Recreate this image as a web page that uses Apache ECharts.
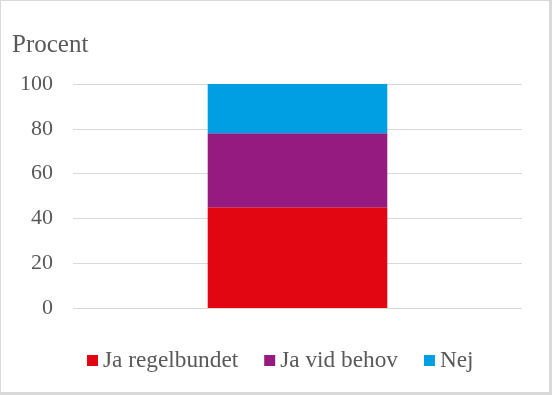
<!DOCTYPE html>
<html><head><meta charset="utf-8">
<script src="https://cdn.jsdelivr.net/npm/echarts@6/dist/echarts.min.js"></script>
<style>html,body{margin:0;padding:0;background:#fff}
#wrap{position:relative;width:552px;height:395px}
#c{width:552px;height:395px}
#frame{position:absolute;left:0;top:0;width:552px;height:395px;box-sizing:border-box;border-style:solid;border-color:#d9d9d9;border-width:1px 3px 3px 1px;pointer-events:none}</style>
</head><body><div id="wrap"><div id="c"></div><div id="frame"></div></div>
<script>
const categories = [''];
const seriesNames = ['Ja regelbundet', 'Ja vid behov', 'Nej'];
const regelbundet = [45];
const vidBehov = [33];
const nej = [22];
const yTitle = 'Procent';
const colors = ['#e20613', '#951b81', '#009fe3'];
const font = 'Liberation Serif';
const chart = echarts.init(document.getElementById('c'));
const data = [regelbundet, vidBehov, nej];
chart.setOption({
  animation: false,
  textStyle: {fontFamily: font},
  title: {text: yTitle, left: 7, top: 28,
    textStyle: {fontFamily: font, fontSize: 25, fontWeight: 'normal', color: '#595959'}},
  grid: {left: 73, right: 30, top: 84, bottom: 87},
  legend: {
    top: 344, left: 82, itemWidth: 11, itemHeight: 11, itemGap: 26,
    icon: 'rect',
    textStyle: {fontFamily: font, fontSize: 23.3, color: '#595959'},
    data: seriesNames
  },
  xAxis: {type: 'category', data: categories, axisLine: {show: false}, axisTick: {show: false}, axisLabel: {show: false}},
  yAxis: {type: 'value', min: 0, max: 100, interval: 20,
    axisLabel: {fontFamily: font, fontSize: 22, color: '#595959', margin: 20},
    splitLine: {lineStyle: {color: '#d9d9d9', width: 1}},
    axisLine: {show: false}, axisTick: {show: false}},
  series: seriesNames.map((n, i) => ({
    name: n, type: 'bar', stack: 'a', data: data[i], barWidth: '40%',
    itemStyle: {color: colors[i]}
  }))
});
</script></body></html>
